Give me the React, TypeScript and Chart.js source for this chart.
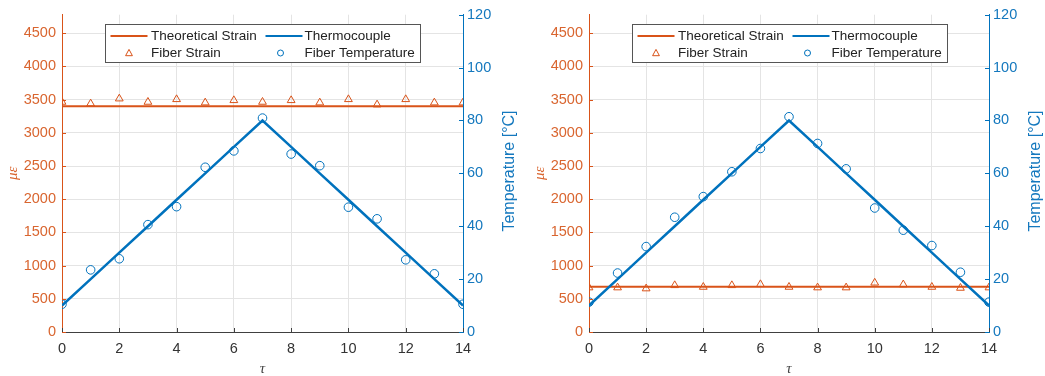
import React, { useEffect, useRef } from "react";
import { Chart, registerables } from "chart.js";

Chart.register(...registerables);

// ---------- data ----------
const TAU = [0, 1, 2, 3, 4, 5, 6, 7, 8, 9, 10, 11, 12, 13, 14];
const THERMOCOUPLE = [10, 20, 30, 40, 50, 60, 70, 80, 70, 60, 50, 40, 30, 20, 10];

const LEFT_THEORETICAL_STRAIN = [3400, 3400, 3400, 3400, 3400, 3400, 3400, 3400, 3400, 3400, 3400, 3400, 3400, 3400, 3400];
const LEFT_FIBER_STRAIN = [3465, 3440, 3515, 3465, 3505, 3455, 3490, 3465, 3490, 3455, 3505, 3425, 3505, 3455, 3455];
const LEFT_FIBER_TEMP = [10.5, 23.5, 27.7, 40.6, 47.4, 62.3, 68.5, 80.9, 67.3, 62.9, 47.2, 42.8, 27.3, 22.0, 10.5];

const RIGHT_THEORETICAL_STRAIN = [680, 680, 680, 680, 680, 680, 680, 680, 680, 680, 680, 680, 680, 680, 680];
const RIGHT_FIBER_STRAIN = [669, 669, 654, 703, 678, 703, 718, 678, 669, 669, 741, 715, 678, 663, 669];
const RIGHT_FIBER_TEMP = [11.3, 22.3, 32.3, 43.4, 51.2, 60.6, 69.4, 81.4, 71.3, 61.7, 46.9, 38.5, 32.7, 22.6, 11.3];

const X_TICKS = [0, 2, 4, 6, 8, 10, 12, 14];
const STRAIN_TICKS = [0, 500, 1000, 1500, 2000, 2500, 3000, 3500, 4000, 4500];
const TEMP_TICKS = [0, 20, 40, 60, 80, 100, 120];

const LEGEND_LABELS = ["Theoretical Strain", "Thermocouple", "Fiber Strain", "Fiber Temperature"];
const X_TITLE = "τ";
const Y_TITLE = "με";
const Y2_TITLE = "Temperature [°C]";

const X_MIN = 0;
const X_MAX = 14;
const STRAIN_MIN = 0;
const STRAIN_MAX = 4780;
const TEMP_MIN = 0;
const TEMP_MAX = 120;

// ---------- styles ----------
const ORANGE = "#D95319";
const ORANGE_TEXT = "#D9652F";
const BLUE = "#0072BD";
const BLUE_TEXT = "#1478BE";
const AXIS_GRAY = "#404040";
const GRID = "#e4e4e4";
const SANS = '"Liberation Sans", Arial, Helvetica, sans-serif';
const SERIF = '"Liberation Serif", "DejaVu Serif", serif';

const pts = (ys: number[]) => TAU.map((x, i) => ({ x, y: ys[i] }));

function drawTriangle(ctx: CanvasRenderingContext2D, cx: number, cy: number, r: number) {
  ctx.beginPath();
  ctx.moveTo(cx, cy - r);
  ctx.lineTo(cx - r * 0.95, cy + r * 0.75);
  ctx.lineTo(cx + r * 0.95, cy + r * 0.75);
  ctx.closePath();
  ctx.stroke();
}

const decorPlugin = {
  id: "decor",
  afterDraw(chart: any) {
    const ctx: CanvasRenderingContext2D = chart.ctx;
    const ca = chart.chartArea;
    const xs = chart.scales.x;
    const ys = chart.scales.y;
    const y2 = chart.scales.y2;
    ctx.save();

    // inward tick marks
    ctx.lineWidth = 1;
    ctx.strokeStyle = AXIS_GRAY;
    X_TICKS.forEach((v) => {
      const px = Math.round(xs.getPixelForValue(v)) + 0.5;
      ctx.beginPath();
      ctx.moveTo(px, ca.bottom);
      ctx.lineTo(px, ca.bottom - 4);
      ctx.stroke();
    });
    ctx.strokeStyle = ORANGE;
    STRAIN_TICKS.forEach((v) => {
      const py = Math.round(ys.getPixelForValue(v)) + 0.5;
      ctx.beginPath();
      ctx.moveTo(ca.left, py);
      ctx.lineTo(ca.left + 4, py);
      ctx.stroke();
    });
    ctx.strokeStyle = BLUE;
    TEMP_TICKS.forEach((v) => {
      const py = Math.round(y2.getPixelForValue(v)) + 0.5;
      ctx.beginPath();
      ctx.moveTo(ca.right, py);
      ctx.lineTo(ca.right - 4, py);
      ctx.stroke();
    });

    // titles
    ctx.textAlign = "center";
    ctx.textBaseline = "middle";
    ctx.fillStyle = "#444";
    ctx.font = `italic 15px ${SERIF}`;
    ctx.fillText(X_TITLE, (ca.left + ca.right) / 2, 369);

    ctx.save();
    ctx.translate(ca.left - 49, (ca.top + ca.bottom) / 2);
    ctx.rotate(-Math.PI / 2);
    ctx.fillStyle = ORANGE_TEXT;
    ctx.font = `italic 15px ${SERIF}`;
    ctx.fillText(Y_TITLE, 0, 0);
    ctx.restore();

    ctx.save();
    ctx.translate(ca.right + 47, 171);
    ctx.rotate(-Math.PI / 2);
    ctx.fillStyle = BLUE_TEXT;
    ctx.font = `16px ${SANS}`;
    ctx.fillText(Y2_TITLE, 0, 0);
    ctx.restore();

    // legend
    const bx = Math.round(ca.left + 43) + 0.5;
    const by = 24.5;
    const bw = 315;
    const bh = 38;
    ctx.fillStyle = "#ffffff";
    ctx.fillRect(bx, by, bw, bh);
    ctx.strokeStyle = "#555";
    ctx.lineWidth = 1;
    ctx.strokeRect(bx, by, bw, bh);

    const r1 = by + 11.5;
    const r2 = by + 28.5;
    ctx.lineWidth = 2;
    ctx.strokeStyle = ORANGE;
    ctx.beginPath();
    ctx.moveTo(bx + 5, r1);
    ctx.lineTo(bx + 42, r1);
    ctx.stroke();
    ctx.strokeStyle = BLUE;
    ctx.beginPath();
    ctx.moveTo(bx + 160, r1);
    ctx.lineTo(bx + 197, r1);
    ctx.stroke();

    ctx.lineWidth = 1;
    ctx.strokeStyle = ORANGE;
    drawTriangle(ctx, bx + 23.5, r2, 3.6);
    ctx.strokeStyle = BLUE;
    ctx.beginPath();
    ctx.arc(bx + 175, r2, 3, 0, Math.PI * 2);
    ctx.stroke();

    ctx.fillStyle = "#222";
    ctx.font = `13.5px ${SANS}`;
    ctx.textAlign = "left";
    ctx.fillText(LEGEND_LABELS[0], bx + 45.5, r1);
    ctx.fillText(LEGEND_LABELS[1], bx + 199, r1);
    ctx.fillText(LEGEND_LABELS[2], bx + 45.5, r2);
    ctx.fillText(LEGEND_LABELS[3], bx + 199, r2);

    ctx.restore();
  },
};

type PanelProps = {
  left: number;
  width: number;
  yWidth: number;
  y2Width: number;
  theoretical: number[];
  fiberStrain: number[];
  fiberTemp: number[];
};

function Panel(props: PanelProps) {
  const ref = useRef<HTMLCanvasElement | null>(null);

  useEffect(() => {
    if (!ref.current) return;
    const chart = new Chart(ref.current, {
      type: "line",
      data: {
        datasets: [
          {
            label: LEGEND_LABELS[3],
            data: pts(props.fiberTemp),
            yAxisID: "y2",
            showLine: false,
            pointStyle: "circle",
            pointRadius: 4.3,
            pointBorderColor: BLUE,
            pointBackgroundColor: "rgba(0,0,0,0)",
            pointBorderWidth: 1,
            order: 0,
          },
          {
            label: LEGEND_LABELS[1],
            data: pts(THERMOCOUPLE),
            yAxisID: "y2",
            borderColor: BLUE,
            borderWidth: 2.5,
            pointRadius: 0,
            fill: false,
            tension: 0,
            order: 1,
          },
          {
            label: LEGEND_LABELS[2],
            data: pts(props.fiberStrain),
            yAxisID: "y",
            showLine: false,
            pointStyle: "triangle",
            pointRadius: 4.5,
            pointBorderColor: ORANGE,
            pointBackgroundColor: "rgba(0,0,0,0)",
            pointBorderWidth: 1,
            order: 2,
          },
          {
            label: LEGEND_LABELS[0],
            data: pts(props.theoretical),
            yAxisID: "y",
            borderColor: ORANGE,
            borderWidth: 2,
            pointRadius: 0,
            fill: false,
            tension: 0,
            order: 3,
          },
        ],
      },
      options: {
        responsive: false,
        animation: false,
        events: [],
        layout: { padding: { top: 14, left: 0, right: 0, bottom: 0 } },
        plugins: {
          legend: { display: false },
          tooltip: { enabled: false },
          title: { display: false },
        },
        scales: {
          x: {
            type: "linear",
            min: X_MIN,
            max: X_MAX,
            afterBuildTicks: (s: any) => {
              s.ticks = X_TICKS.map((v) => ({ value: v }));
            },
            ticks: {
              color: "#333",
              font: { family: SANS, size: 14.5 },
              padding: 8,
              maxRotation: 0,
              autoSkip: false,
            },
            grid: { color: GRID, drawTicks: false, lineWidth: 1 },
            border: { color: AXIS_GRAY, width: 1 },
            afterFit: (s: any) => {
              s.height = 44;
            },
          },
          y: {
            type: "linear",
            position: "left",
            min: STRAIN_MIN,
            max: STRAIN_MAX,
            afterBuildTicks: (s: any) => {
              s.ticks = STRAIN_TICKS.map((v) => ({ value: v }));
            },
            ticks: {
              color: ORANGE_TEXT,
              font: { family: SANS, size: 14.5 },
              padding: 6,
              autoSkip: false,
              callback: (v: any) => String(v),
            },
            grid: { color: GRID, drawTicks: false, lineWidth: 1 },
            border: { color: ORANGE, width: 1 },
            afterFit: (s: any) => {
              s.width = props.yWidth;
            },
          },
          y2: {
            type: "linear",
            position: "right",
            min: TEMP_MIN,
            max: TEMP_MAX,
            afterBuildTicks: (s: any) => {
              s.ticks = TEMP_TICKS.map((v) => ({ value: v }));
            },
            ticks: {
              color: BLUE_TEXT,
              font: { family: SANS, size: 14.5 },
              padding: 4,
              autoSkip: false,
              callback: (v: any) => String(v),
            },
            grid: { display: false, drawTicks: false },
            border: { color: BLUE, width: 1 },
            afterFit: (s: any) => {
              s.width = props.y2Width;
            },
          },
        },
      } as any,
      plugins: [decorPlugin],
    });
    return () => chart.destroy();
  }, []);

  return (
    <canvas
      ref={ref}
      width={props.width}
      height={376}
      style={{ position: "absolute", left: props.left, top: 0, width: props.width, height: 376, display: "block" }}
    />
  );
}

export default function App() {
  return (
    <div style={{ position: "absolute", left: 0, top: 0, width: 1045, height: 376, background: "#fff", overflow: "hidden" }}>
      <Panel
        left={0}
        width={525}
        yWidth={62}
        y2Width={62}
        theoretical={LEFT_THEORETICAL_STRAIN}
        fiberStrain={LEFT_FIBER_STRAIN}
        fiberTemp={LEFT_FIBER_TEMP}
      />
      <Panel
        left={525}
        width={520}
        yWidth={64}
        y2Width={56}
        theoretical={RIGHT_THEORETICAL_STRAIN}
        fiberStrain={RIGHT_FIBER_STRAIN}
        fiberTemp={RIGHT_FIBER_TEMP}
      />
    </div>
  );
}
